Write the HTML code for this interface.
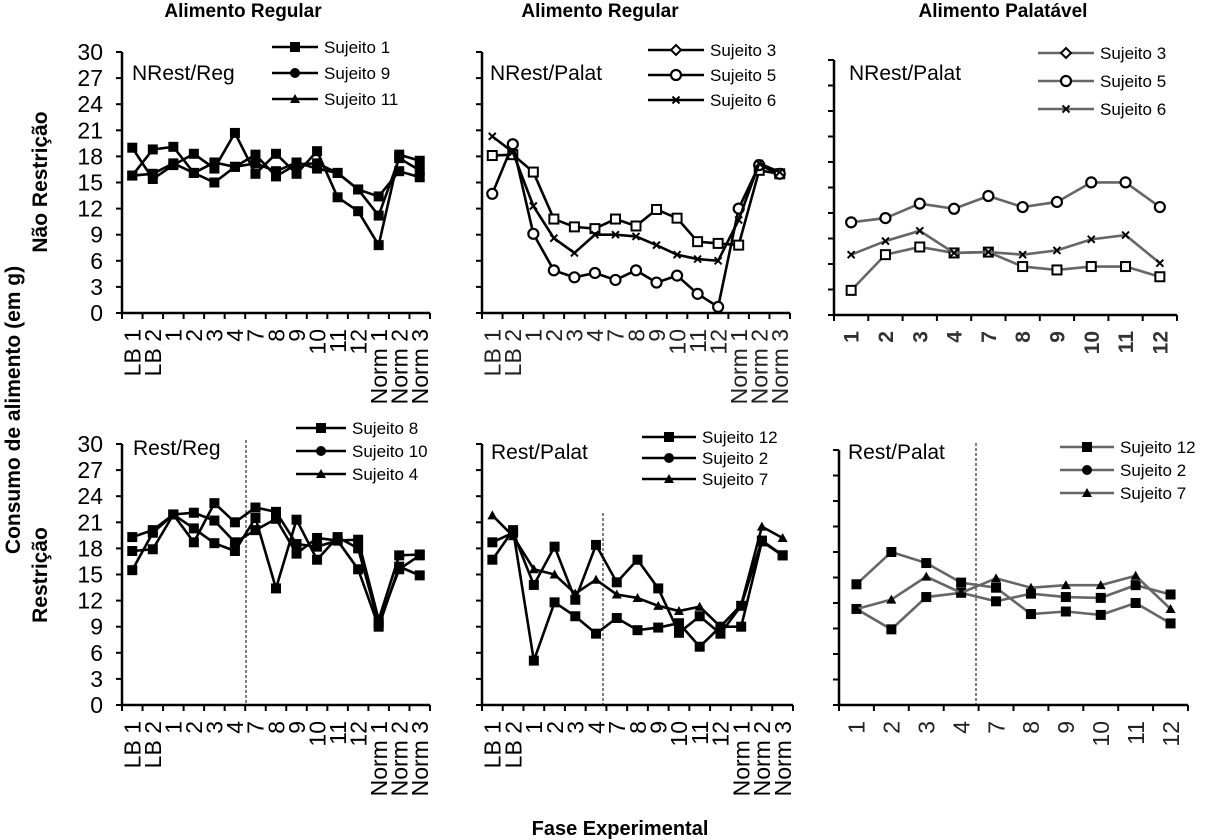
<!DOCTYPE html>
<html><head><meta charset="utf-8"><style>
body{margin:0;background:#fff;}
svg{display:block;font-family:"Liberation Sans",Arial,sans-serif;}
</style></head><body>
<svg id="c" width="1207" height="840" viewBox="0 0 1207 840">
<text x="243" y="17" font-size="19" font-weight="bold" text-anchor="middle">Alimento Regular</text>
<text x="600" y="17" font-size="19" font-weight="bold" text-anchor="middle">Alimento Regular</text>
<text x="1003" y="17" font-size="19" font-weight="bold" text-anchor="middle">Alimento Palatável</text>
<text transform="translate(20,410) rotate(-90)" font-size="21" font-weight="bold" text-anchor="middle">Consumo de alimento (em g)</text>
<text transform="translate(47,182) rotate(-90)" font-size="21" font-weight="bold" text-anchor="middle">Não Restrição</text>
<text transform="translate(47,575) rotate(-90)" font-size="21" font-weight="bold" text-anchor="middle">Restrição</text>
<text x="620" y="835" font-size="20" font-weight="bold" text-anchor="middle">Fase Experimental</text>
</svg>
<script>
const catsFull = ["LB 1","LB 2","1","2","3","4","7","8","9","10","11","12","Norm 1","Norm 2","Norm 3"];
const catsPal = ["1","2","3","4","7","8","9","10","11","12"];
const yTicks = [0,3,6,9,12,15,18,21,24,27,30];

const p1s1 = [19,15.4,17,18.3,16.6,20.7,16,18.3,16,18.6,13.3,11.7,7.8,18.2,17.5];
const p1s9 = [15.8,16,17.2,16.1,15,16.8,17.2,16.3,17.3,16.6,16.1,14.2,11.2,17.8,16.4];
const p1s11 = [15.8,18.8,19.1,16.1,17.3,16.8,18.2,15.7,17.1,17.2,16.1,14.2,13.4,16.3,15.6];

const p2s3 = [18.1,18.2,16.2,10.8,9.9,9.7,10.8,10.0,11.9,10.9,8.2,8.0,7.8,16.4,16.0];
const p2s5 = [13.7,19.4,9.1,4.9,4.1,4.6,3.8,4.9,3.5,4.3,2.2,0.7,12.0,17.0,16.0];
const p2s6 = [20.3,18.5,12.3,8.6,6.9,9.0,9.0,8.8,7.8,6.7,6.2,6.0,10.7,17.2,16.2];

const p3s3 = [2.9,7.1,8.0,7.3,7.4,5.7,5.3,5.7,5.7,4.5];
const p3s5 = [10.9,11.4,13.1,12.5,14.0,12.7,13.3,15.6,15.6,12.7];
const p3s6 = [7.1,8.7,9.9,7.3,7.4,7.1,7.6,8.9,9.4,6.1];

const p4s8 = [19.3,20.1,21.9,18.7,23.2,21.0,22.7,22.2,18.5,18.2,18.9,15.6,9.0,15.9,14.9];
const p4s10 = [17.7,17.9,21.9,22.1,21.2,18.7,20.1,21.4,17.4,19.2,18.9,19.0,9.8,17.2,17.3];
const p4s4 = [15.5,19.8,21.9,20.3,18.6,17.7,21.5,13.4,21.3,16.7,19.3,18.0,9.4,15.6,17.2];

const p5s12 = [18.7,19.8,13.8,18.2,12.1,18.4,14.1,16.7,13.4,8.3,10.2,8.2,11.4,18.9,17.2];
const p5s2 = [16.7,20.1,5.1,11.8,10.2,8.2,10.0,8.6,8.9,9.4,6.7,9.0,9.0,18.8,17.2];
const p5s7 = [21.8,19.4,15.6,15.0,12.8,14.4,12.7,12.3,11.4,10.8,11.3,9.0,11.5,20.5,19.2];

const p6s12 = [14.2,18.0,16.7,14.4,13.8,10.7,11.0,10.6,12.0,9.6];
const p6s2 = [11.3,8.9,12.7,13.2,12.2,13.1,12.7,12.6,14.1,13.0];
const p6s7 = [11.3,12.4,15.1,13.2,14.9,13.8,14.1,14.1,15.2,11.3];

const svg = document.getElementById('c');
const NS = 'http://www.w3.org/2000/svg';
function mk(tag, attrs, parent){const e=document.createElementNS(NS,tag);for(const k in attrs)e.setAttribute(k,attrs[k]);(parent||svg).appendChild(e);return e;}

function marker(g, type, x, y){
  let e;
  if(type==='sq'){e=mk('rect',{x:x-5,y:y-5,width:10,height:10,fill:'#000'},g);}
  else if(type==='osq'){e=mk('rect',{x:x-4.5,y:y-4.5,width:9,height:9,fill:'#fff',stroke:'#000','stroke-width':2},g);}
  else if(type==='oc'){e=mk('circle',{cx:x,cy:y,r:5,fill:'#fff',stroke:'#000','stroke-width':2.2},g);}
  else if(type==='x'){e=mk('path',{d:`M${x-3.5} ${y-3.5}L${x+3.5} ${y+3.5}M${x+3.5} ${y-3.5}L${x-3.5} ${y+3.5}`,stroke:'#000','stroke-width':2},g);}
  else if(type==='tri'){e=mk('path',{d:`M${x} ${y-5}L${x+5} ${y+4}L${x-5} ${y+4}Z`,fill:'#000'},g);}
  else if(type==='dot'){e=mk('circle',{cx:x,cy:y,r:5,fill:'#000'},g);}
  else if(type==='dia'){e=mk('path',{d:`M${x} ${y-5}L${x+5} ${y}L${x} ${y+5}L${x-5} ${y}Z`,fill:'#fff',stroke:'#000','stroke-width':2},g);}
  
  
}

function panel(o){
  const g = mk('g',{});
  
  
  const n=o.cats.length;
  const step=(o.x1-o.x0)/n;
  const xs=i=>o.x0+step*(i+0.5);
  const ys=v=>o.yb-(o.yb-o.yt)*v/30;
  const ax=mk('path',{d:`M${o.x0} ${o.yt}V${o.yb}H${o.x1}`,fill:'none',stroke:'#000','stroke-width':2.5},g);
  
  
  yTicks.forEach(t=>{
    mk('line',{x1:o.x0-6,x2:o.x0,y1:ys(t),y2:ys(t),stroke:'#000','stroke-width':2},g);
    if(o.labels){const tl=mk('text',{x:103,y:ys(t)+8,'font-size':23,'text-anchor':'end'},g);tl.textContent=t;
      
      }
  });
  for(let i=0;i<=n;i++){mk('line',{x1:o.x0+step*i,x2:o.x0+step*i,y1:o.yb,y2:o.yb+6,stroke:'#000','stroke-width':2},g);}
  o.cats.forEach((c,i)=>{
    const t=mk('text',{transform:`translate(${xs(i)+o.xfs*0.36},${o.yb+16}) rotate(-90)`,'font-size':o.xfs,'text-anchor':'end',fill:o.xcol||'#000','font-weight':o.xbold?'bold':'normal'},g);
    t.textContent=c;
    
    
  });
  if(o.dash){const d=mk('line',{x1:o.dash,x2:o.dash,y1:o.dashTop,y2:o.yb,stroke:'#000','stroke-width':1,'stroke-dasharray':'3,2'},g);
    
    }
  const lab=mk('text',{x:o.lx,y:o.ly,'font-size':21},g);lab.textContent=o.label;
  
  
  o.series.forEach((s,si)=>{
    const pl=mk('polyline',{points:s.data.map((v,i)=>xs(i)+','+ys(v)).join(' '),fill:'none',stroke:o.lcol,'stroke-width':2.6},g);
    
    
    s.data.forEach((v,i)=>marker(g,s.m,xs(i),ys(v)));
    const ly=o.legY+si*o.legDy;
    const le=mk('g',{},g);
    
    
    mk('line',{x1:o.legX,x2:o.legX+o.legW,y1:ly,y2:ly,stroke:o.lcol,'stroke-width':2.6},le);
    marker(le,s.lm||s.m,o.legX+o.legW/2,ly);
    const lt=mk('text',{x:o.legX+o.legW+6,y:ly+6,'font-size':17},le);lt.textContent=s.name;
  });
}

panel({name:'panel-nrest-reg',cats:catsFull,x0:122,x1:430,yt:52,yb:313,labels:true,xfs:23,label:'NRest/Reg',lx:132,ly:80,lcol:'#000',
  legX:272,legY:47,legDy:26,legW:46,
  series:[{name:'Sujeito 1',data:p1s1,m:'sq'},{name:'Sujeito 9',data:p1s9,m:'sq',lm:'dot'},{name:'Sujeito 11',data:p1s11,m:'sq',lm:'tri'}]});
panel({name:'panel-nrest-palat-regular',cats:catsFull,x0:482,x1:790,yt:52,yb:313,labels:false,xfs:23,xcol:'#222',label:'NRest/Palat',lx:490,ly:80,lcol:'#000',
  legX:648,legY:50,legDy:25,legW:56,
  series:[{name:'Sujeito 3',data:p2s3,m:'osq',lm:'dia'},{name:'Sujeito 5',data:p2s5,m:'oc'},{name:'Sujeito 6',data:p2s6,m:'x'}]});
panel({name:'panel-nrest-palat-palatavel',cats:catsPal,x0:834,x1:1177,yt:60,yb:315,labels:false,xfs:21,xbold:true,xcol:'#333',label:'NRest/Palat',lx:849,ly:80,lcol:'#666',
  legX:1038,legY:53,legDy:28,legW:56,
  series:[{name:'Sujeito 3',data:p3s3,m:'osq',lm:'dia'},{name:'Sujeito 5',data:p3s5,m:'oc'},{name:'Sujeito 6',data:p3s6,m:'x'}]});
panel({name:'panel-rest-reg',cats:catsFull,x0:122,x1:430,yt:444,yb:705,labels:true,xfs:23,label:'Rest/Reg',lx:133,ly:455,lcol:'#000',
  dash:246,dashTop:440,
  legX:296,legY:428,legDy:23,legW:50,
  series:[{name:'Sujeito 8',data:p4s8,m:'sq'},{name:'Sujeito 10',data:p4s10,m:'sq',lm:'dot'},{name:'Sujeito 4',data:p4s4,m:'sq',lm:'tri'}]});
panel({name:'panel-rest-palat-regular',cats:catsFull,x0:482,x1:793,yt:444,yb:705,labels:false,xfs:23,label:'Rest/Palat',lx:491,ly:459,lcol:'#000',
  dash:603,dashTop:513,
  legX:642,legY:437,legDy:21,legW:54,
  series:[{name:'Sujeito 12',data:p5s12,m:'sq'},{name:'Sujeito 2',data:p5s2,m:'sq',lm:'dot'},{name:'Sujeito 7',data:p5s7,m:'tri'}]});
panel({name:'panel-rest-palat-palatavel',cats:catsPal,x0:839,x1:1188,yt:450,yb:705,labels:false,xfs:23,xcol:'#222',label:'Rest/Palat',lx:848,ly:459,lcol:'#666',
  dash:976,dashTop:443,
  legX:1060,legY:447,legDy:23,legW:54,
  series:[{name:'Sujeito 12',data:p6s12,m:'sq'},{name:'Sujeito 2',data:p6s2,m:'sq',lm:'dot'},{name:'Sujeito 7',data:p6s7,m:'tri'}]});
</script>
</body></html>
